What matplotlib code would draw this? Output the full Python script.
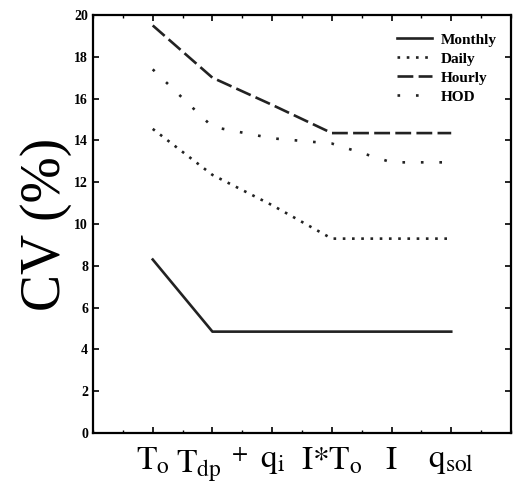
import matplotlib
matplotlib.use("Agg")
import matplotlib.pyplot as plt
from matplotlib.ticker import MultipleLocator

plt.rcParams['font.family'] = ['Liberation Serif', 'DejaVu Serif']
plt.rcParams['mathtext.fontset'] = 'stix'

categories = [r'$\mathrm{T_o}$', r'$\mathrm{T_{dp}}^{\ +}$', r'$\mathrm{q_i}$',
              r'$\mathrm{I{*}T_o}$', r'$\mathrm{I}$', r'$\mathrm{q_{sol}}$']
monthly = [8.3, 4.85, 4.85, 4.85, 4.85, 4.85]
daily = [14.55, 12.35, 10.9, 9.3, 9.3, 9.3]
hourly = [19.5, 17.0, 15.7, 14.35, 14.35, 14.35]
hod = [17.4, 14.65, 14.1, 13.85, 12.95, 12.95]

fig = plt.figure(figsize=(5.14, 5.0), dpi=100)
ax = fig.add_axes([0.181, 0.134, 0.813, 0.836])
x = list(range(len(categories)))
lw = 1.9
ax.plot(x, monthly, color='#222', lw=lw, ls='-', label='Monthly')
ax.plot(x, daily, color='#222', lw=lw, ls=(0, (1, 2.5)), label='Daily')
ax.plot(x, hourly, color='#222', lw=lw, ls=(0, (6, 2)), label='Hourly')
ax.plot(x, hod, color='#222', lw=lw, ls=(0, (1, 6)), label='HOD')

ax.set_xlim(-1, 6)
ax.set_ylim(0, 20)
ax.set_xticks(x)
ax.set_xticklabels(categories, fontsize=24)
ax.xaxis.set_minor_locator(MultipleLocator(0.5))
ax.yaxis.set_major_locator(MultipleLocator(2))
ax.tick_params(axis='both', which='both', direction='in', top=True, right=True)
ax.tick_params(axis='both', which='major', length=4, width=1.2)
ax.tick_params(axis='both', which='minor', length=2, width=1)
ax.tick_params(axis='x', pad=9)
for lab in ax.get_yticklabels():
    lab.set_fontweight('bold')
    lab.set_fontsize(10)
for s in ax.spines.values():
    s.set_linewidth(1.6)
ax.set_ylabel('CV (%)', fontsize=40, labelpad=2)
ax.legend(loc='upper right', frameon=False, prop={'weight': 'bold', 'size': 11},
          handlelength=2.3, handletextpad=0.6, labelspacing=0.35,
          bbox_to_anchor=(1.0, 0.99))
fig.savefig('out.png', dpi=100)
